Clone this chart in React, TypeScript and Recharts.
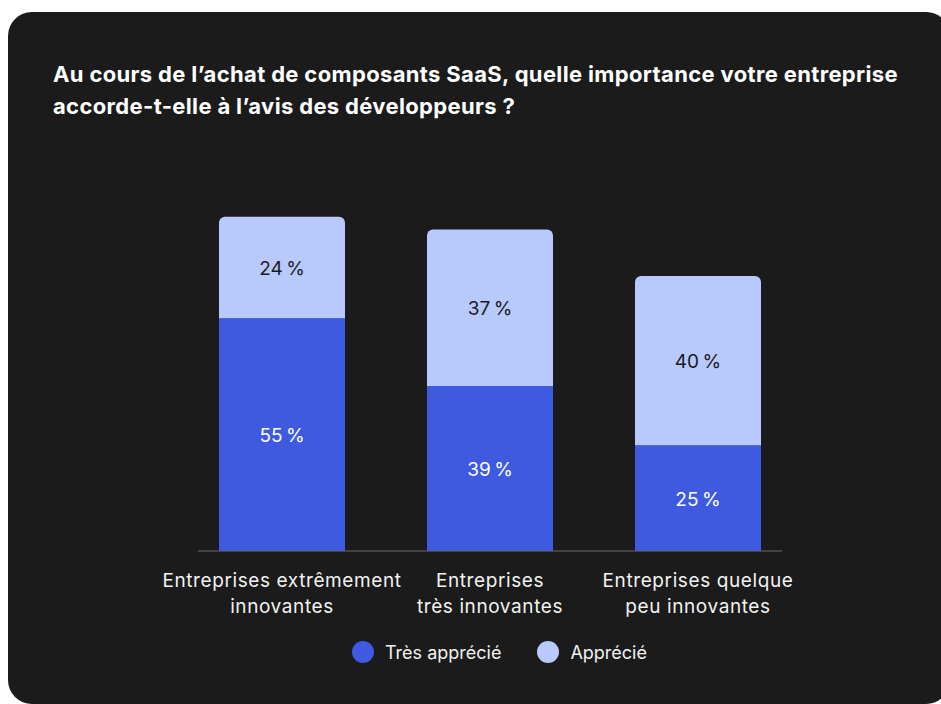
import React from 'react';
import { BarChart, Bar, XAxis, YAxis, LabelList } from 'recharts';

const categories = [
  'Entreprises extrêmement\ninnovantes',
  'Entreprises\ntrès innovantes',
  'Entreprises quelque\npeu innovantes',
];
const tresApprecie = [55, 39, 25];
const apprecie = [24, 37, 40];
const seriesNames = ['Très apprécié', 'Apprécié'];
const title = [
  'Au cours de l’achat de composants SaaS, quelle importance votre entreprise',
  'accorde-t-elle à l’avis des développeurs ?',
];

const DARK = '#3d5ae1';
const LIGHT = '#b7c9fd';
const BG = '#1b1b1b';
const FONT = 'Inter, "Noto Sans", sans-serif';

const data = categories.map((name, i) => ({
  name,
  tres: tresApprecie[i],
  app: apprecie[i],
}));

const CategoryTick = (props: any) => {
  const { x, y, payload } = props;
  const lines = String(payload.value).split('\n');
  return (
    <text
      x={x}
      y={y}
      textAnchor="middle"
      fill="#f2f2f2"
      fontSize={19}
      fontFamily={FONT}
      style={{ letterSpacing: 0.6 }}
    >
      {lines.map((l: string, i: number) => (
        <tspan key={i} x={x} dy={i === 0 ? 28 : 26}>
          {l}
        </tspan>
      ))}
    </text>
  );
};

const makeLabel = (color: string) => (props: any) => {
  const { x, y, width, height, value } = props;
  return (
    <text
      x={x + width / 2}
      y={y + height / 2 + 1}
      textAnchor="middle"
      dominantBaseline="central"
      fill={color}
      fontSize={19}
      fontFamily={FONT}
    >
      {value}{'\u2009'}%
    </text>
  );
};

export default function App() {
  return (
    <div style={{ position: 'fixed', left: 0, top: 0, width: 941, height: 704, overflow: 'hidden', background: '#fff' }}>
      <div
        style={{
          position: 'absolute',
          left: 8,
          top: 12,
          width: 942,
          height: 692,
          background: BG,
          borderRadius: 24,
        }}
      />
      <div
        style={{
          position: 'absolute',
          left: 53,
          top: 58,
          color: '#fff',
          fontFamily: FONT,
          fontWeight: 700,
          fontSize: 22,
          letterSpacing: 0.35,
          lineHeight: '32px',
          whiteSpace: 'nowrap',
        }}
      >
        {title.map((t, i) => (
          <div key={i}>{t}</div>
        ))}
      </div>
      <div style={{ position: 'absolute', left: 0, top: 0 }}>
        <BarChart
          width={941}
          height={704}
          data={data}
          margin={{ top: 128, right: 159, bottom: 93, left: 198 }}
          barSize={126}
        >
          <XAxis
            dataKey="name"
            height={60}
            interval={0}
            tickLine={false}
            axisLine={{ stroke: '#6b6b6b', strokeWidth: 1 }}
            padding={{ left: -20, right: -20 }}
            tick={<CategoryTick />}
          />
          <YAxis hide domain={[0, 100]} />
          <Bar dataKey="tres" stackId="a" fill={DARK} isAnimationActive={false}>
            <LabelList dataKey="tres" content={makeLabel('#ffffff')} />
          </Bar>
          <Bar dataKey="app" stackId="a" fill={LIGHT} radius={[6, 6, 0, 0]} isAnimationActive={false}>
            <LabelList dataKey="app" content={makeLabel('#1b1b1b')} />
          </Bar>
        </BarChart>
      </div>
      <div
        style={{
          position: 'absolute',
          left: 352,
          top: 640,
          display: 'flex',
          alignItems: 'center',
          fontFamily: FONT,
          fontSize: 18,
          color: '#f2f2f2',
          height: 24,
        }}
      >
        {seriesNames.map((n, i) => (
          <div key={n} style={{ display: 'flex', alignItems: 'center', marginRight: i === 0 ? 36 : 0 }}>
            <span
              style={{
                display: 'inline-block',
                width: 22,
                height: 22,
                borderRadius: 11,
                background: i === 0 ? DARK : LIGHT,
                marginRight: 11,
              }}
            />
            <span>{n}</span>
          </div>
        ))}
      </div>
    </div>
  );
}
